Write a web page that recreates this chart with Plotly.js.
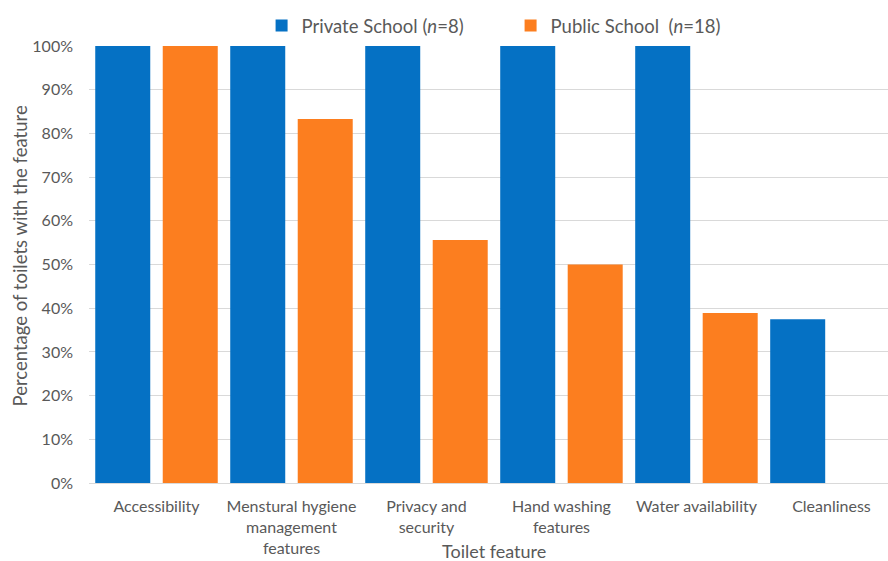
<!DOCTYPE html>
<html>
<head>
<meta charset="utf-8">
<script src="https://cdn.plot.ly/plotly-3.0.1.min.js"></script>
<style>html,body{margin:0;padding:0;background:#fff;}#chart{width:888px;height:561px;}</style>
</head>
<body>
<div id="chart"></div>
<script>
const categories = ["Accessibility", "Menstural hygiene<br>management<br>features", "Privacy and<br>security", "Hand washing<br>features", "Water availability", "Cleanliness"];
const privateValues = [1.00, 1.00, 1.00, 1.00, 1.00, 0.375];
const publicValues = [1.00, 0.833, 0.556, 0.50, 0.389, 0];
const seriesNames = ["Private School (<i>n</i>=8)", "Public School  (<i>n</i>=18)"];
const yTickValues = [0, 0.1, 0.2, 0.3, 0.4, 0.5, 0.6, 0.7, 0.8, 0.9, 1.0];

const idx = categories.map((c, i) => i);
const font = "Lato, 'Open Sans', sans-serif";
const gray = "#595959";

const data = [
  {type: "bar", x: idx, y: privateValues, name: seriesNames[0], marker: {color: "#0571C4"}, hoverinfo: "y"},
  {type: "bar", x: idx, y: publicValues, name: seriesNames[1], marker: {color: "#FC7E1F"}, hoverinfo: "y"}
];

const layout = {
  width: 888, height: 561,
  margin: {l: 89, r: 0, t: 46, b: 78},
  paper_bgcolor: "#fff", plot_bgcolor: "#fff",
  font: {family: font, size: 14, color: gray},
  barmode: "group", bargap: 0, bargroupgap: 0.185,
  showlegend: true,
  legend: {orientation: "h", x: 0.216, xanchor: "left", y: 1.046, yanchor: "middle",
           font: {family: font, size: 18.5, color: gray}, entrywidth: 204, itemwidth: 30,
           traceorder: "normal"},
  xaxis: {
    tickmode: "array", tickvals: idx, ticktext: categories,
    range: [-0.5, 5.419], showgrid: false, zeroline: false,
    showline: true, linecolor: "#d9d9d9", linewidth: 1,
    ticks: "", ticklabelstandoff: 9, tickfont: {family: font, size: 16, color: gray},
    fixedrange: true
  },
  yaxis: {
    range: [0, 1.0], tickmode: "array", tickvals: yTickValues, tickformat: ".0%",
    showgrid: true, gridcolor: "#d9d9d9", gridwidth: 1, zeroline: false,
    showline: false, ticks: "", ticklen: 0, ticklabelstandoff: 15,
    tickfont: {family: font, size: 16, color: gray},
    automargin: false
  },
  annotations: [{
    text: "Toilet feature", xref: "x", yref: "paper", x: 2.5, y: -0.155,
    xanchor: "center", yanchor: "middle", showarrow: false,
    font: {family: font, size: 18, color: gray}
  }, {
    text: "Percentage of toilets with the feature", xref: "paper", yref: "paper",
    x: -0.0867, y: 0.52, xanchor: "center", yanchor: "middle", textangle: -90, showarrow: false,
    font: {family: font, size: 18.5, color: gray}
  }]
};

Plotly.newPlot("chart", data, layout, {displayModeBar: false, staticPlot: true});
</script>
</body>
</html>
